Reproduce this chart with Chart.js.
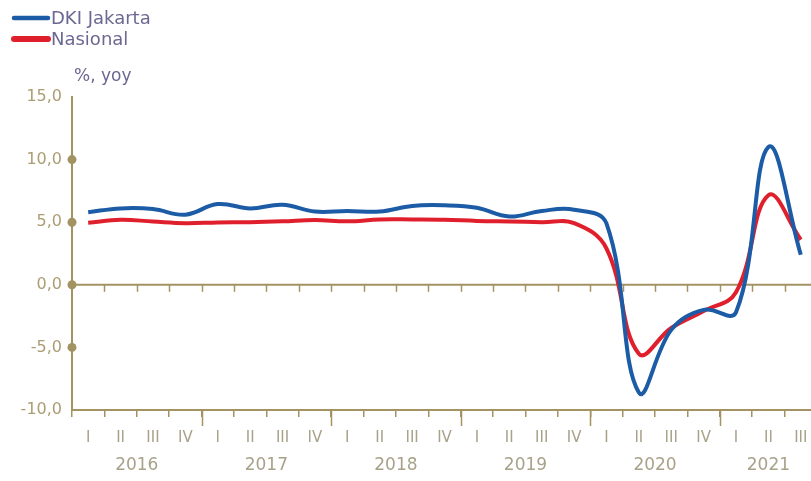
<!DOCTYPE html>
<html>
<head>
<meta charset="utf-8">
<script src="https://cdn.jsdelivr.net/npm/chart.js@4.4.1/dist/chart.umd.min.js"></script>
<style>
  html, body { margin: 0; padding: 0; background: #ffffff; overflow: hidden; width: 811px; height: 481px; }
  #wrap { position: relative; width: 826px; height: 481px; }
  canvas { display: block; }
</style>
</head>
<body>
<div id="wrap"><canvas id="c" width="826" height="481"></canvas></div>
<script>
// Quarterly GDP growth, % yoy
const quarterLabels = [
  'I', 'II', 'III', 'IV',
  'I', 'II', 'III', 'IV',
  'I', 'II', 'III', 'IV',
  'I', 'II', 'III', 'IV',
  'I', 'II', 'III', 'IV',
  'I', 'II', 'III'
];
const yearLabels = ['2016', '2017', '2018', '2019', '2020', '2021'];
const jakarta = [
  5.8, 6.1, 6.05, 5.6,
  6.45, 6.1, 6.4, 5.85,
  5.9, 5.85, 6.3, 6.35,
  6.15, 5.45, 5.9, 6.0,
  4.9, -8.6, -3.6, -2.0,
  -2.2, 11.0, 2.4
];
const nasional = [
  4.95, 5.2, 5.05, 4.92,
  4.98, 5.0, 5.07, 5.18,
  5.07, 5.22, 5.22, 5.2,
  5.1, 5.05, 5.0, 4.92,
  2.9, -5.5, -3.45, -2.1,
  -0.6, 7.15, 3.6
];
const markedValues = [10, 5, 0, -5];

const AXIS = '#a39262';
const LABEL = '#ab9d74';
const XLABEL = '#a8a28a';
const LEGEND_TEXT = '#6c6891';
const FONT = "'DejaVu Sans', sans-serif";

function fmt(v) {
  return v.toFixed(1).replace('.', ',');
}

// zero line, tick marks, axis dots, year captions, legend
const decorations = {
  id: 'decorations',
  beforeDatasetsDraw(chart) {
    const { ctx, chartArea: a, scales: { x, y } } = chart;
    const n = quarterLabels.length;
    const w = x.getPixelForValue(1) - x.getPixelForValue(0);
    const boundary = i => x.getPixelForValue(i) - w / 2;
    ctx.save();
    ctx.strokeStyle = AXIS;
    // zero line
    const y0 = y.getPixelForValue(0);
    ctx.lineWidth = 2;
    ctx.beginPath();
    ctx.moveTo(a.left, y0);
    ctx.lineTo(a.right, y0);
    ctx.stroke();
    // ticks hanging under the zero line
    ctx.lineWidth = 1.5;
    for (let i = 1; i <= n; i++) {
      const bx = Math.round(boundary(i)) + 0.5;
      ctx.beginPath();
      ctx.moveTo(bx, y0);
      ctx.lineTo(bx, y0 + 7);
      ctx.stroke();
    }
    // longer ticks between years on the bottom axis
    for (let i = 4; i < n; i += 4) {
      const bx = Math.round(boundary(i)) + 0.5;
      ctx.beginPath();
      ctx.moveTo(bx, a.bottom);
      ctx.lineTo(bx, a.bottom + 16);
      ctx.stroke();
    }
    // dots on the value axis
    ctx.fillStyle = AXIS;
    markedValues.forEach(v => {
      ctx.beginPath();
      ctx.arc(a.left, y.getPixelForValue(v), 4.5, 0, Math.PI * 2);
      ctx.fill();
    });
    // year captions centred under their quarters
    ctx.fillStyle = XLABEL;
    ctx.font = '17px ' + FONT;
    ctx.textAlign = 'center';
    ctx.textBaseline = 'middle';
    yearLabels.forEach((yr, k) => {
      const first = k * 4;
      const last = Math.min(first + 3, n - 1);
      const cx = (x.getPixelForValue(first) + x.getPixelForValue(last)) / 2;
      ctx.fillText(yr, cx, a.bottom + 56);
    });
    // unit caption
    ctx.fillStyle = LEGEND_TEXT;
    ctx.textAlign = 'left';
    ctx.font = '17px ' + FONT;
    ctx.fillText('%, yoy', a.left + 2, 77);
    // legend
    chart.data.datasets.forEach((ds, i) => {
      const ly = 18 + i * 21;
      ctx.strokeStyle = ds.borderColor;
      ctx.lineWidth = i === 0 ? 4.5 : 6;
      ctx.lineCap = 'round';
      ctx.beginPath();
      ctx.moveTo(14, ly);
      ctx.lineTo(48, ly);
      ctx.stroke();
      ctx.fillStyle = LEGEND_TEXT;
      ctx.font = '18px ' + FONT;
      ctx.fillText(ds.label, 51, ly + 1);
    });
    ctx.restore();
  }
};

new Chart(document.getElementById('c'), {
  type: 'line',
  data: {
    labels: quarterLabels,
    datasets: [
      {
        label: 'DKI Jakarta',
        data: jakarta,
        borderColor: '#1c5ca6',
        borderWidth: 4,
        pointRadius: 0,
        tension: 0.4,
        fill: false
      },
      {
        label: 'Nasional',
        data: nasional,
        borderColor: '#e01f2c',
        borderWidth: 4,
        pointRadius: 0,
        tension: 0.4,
        fill: false
      }
    ]
  },
  options: {
    responsive: false,
    animation: false,
    devicePixelRatio: 1,
    layout: { padding: { top: 97, right: 9, bottom: 0, left: 0 } },
    plugins: { legend: { display: false }, tooltip: { enabled: false } },
    scales: {
      x: {
        type: 'category',
        offset: true,
        grid: {
          offset: true,
          drawOnChartArea: false,
          drawTicks: true,
          tickLength: 7,
          color: AXIS,
          lineWidth: 1.5
        },
        border: { display: true, color: AXIS, width: 2 },
        ticks: {
          color: XLABEL,
          font: { family: FONT, size: 15 },
          padding: 12,
          maxRotation: 0,
          autoSkip: false
        },
        afterFit(scale) { scale.height = 71; }
      },
      y: {
        min: -10,
        max: 15,
        grid: { display: false, drawTicks: false },
        border: { display: true, color: AXIS, width: 2 },
        ticks: {
          stepSize: 5,
          color: LABEL,
          font: { family: FONT, size: 16 },
          padding: 10,
          callback: v => fmt(v)
        },
        afterFit(scale) { scale.width = 72; }
      }
    }
  },
  plugins: [decorations]
});
</script>
</body>
</html>
